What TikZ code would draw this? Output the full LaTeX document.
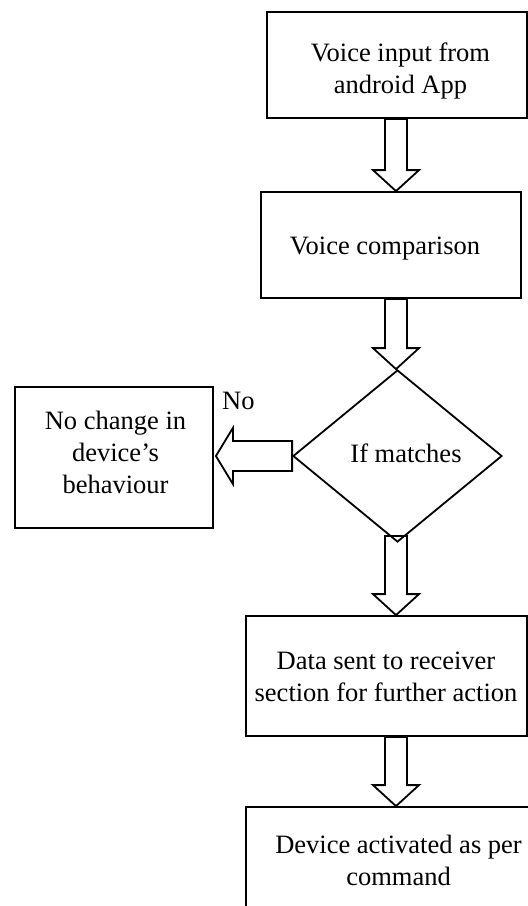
\documentclass[tikz,border=0pt]{standalone}
\usepackage{fontspec}
\setmainfont{Liberation Serif}
\usetikzlibrary{calc,shapes.geometric}
\newcommand\mainsize{\fontsize{26.5}{32}\selectfont}
\tikzset{
  box/.style={draw, line width=1.8pt, rectangle, inner sep=0pt},
  dec/.style={draw, line width=1.8pt, diamond, inner sep=0pt},
  txt/.style={align=center, inner sep=0pt, anchor=base, font=\mainsize},
  blockarrow/.style={draw, line width=1.8pt, line join=miter},
}
\newcommand\vblockarrow[3]{%
  \path[blockarrow] let \p1=#1, \p2=(#2.north), \p3=(axis) in
    (\x3-11pt,\y1) -- (\x3-11pt,\y2+21pt) -- (\x3-23pt,\y2+21pt) -- (\x3,\y2)
    -- (\x3+23pt,\y2+21pt) -- (\x3+11pt,\y2+21pt) -- (\x3+11pt,\y1) -- cycle;}
\begin{document}
\begin{tikzpicture}[x={(1pt,0)}, y={(0,-1pt)}]
\useasboundingbox (0,0) rectangle (528,906);
\clip (0,0) rectangle (528,906);
\coordinate (axis) at (396,0);
% boxes
\node[box, minimum width=260pt, minimum height=106pt] (b1) at (397,65) {};
\node[box, minimum width=260pt, minimum height=106pt] (b2) at (391,245) {};
\node[dec, minimum width=209pt, minimum height=172pt] (d) at (397.5,456) {};
\node[box, minimum width=198pt, minimum height=141pt] (b3) at (114,457.5) {};
\node[box, minimum width=281pt, minimum height=120pt] (b4) at (386.5,676) {};
\node[box, minimum width=310pt, minimum height=152pt] (b5) at (401,883) {};
% texts (base anchor = baseline of the last line)
\node[txt] (t1) at (400.5,93) {Voice input from\\android App};
\node[txt] (t2) at (385,254) {Voice comparison};
\node[txt] (td) at (406,462) {If matches};
\node[txt] (t3) at (115.5,493) {No change in\\device’s\\behaviour};
\node[txt] (t4) at (386,701) {Data sent to receiver\\section for further action};
\node[txt] (t5) at (398.5,885) {Device activated as per\\command};
\node[inner sep=0pt, anchor=base west, font=\mainsize] (no) at (222,409) {No};
% block arrows
\vblockarrow{(b1.south)}{b2}{}
\path let \p1=(d.south) in coordinate (dstart) at (\x1,\y1+7pt);
\vblockarrow{(b2.south)}{d}{}
\vblockarrow{(dstart)}{b4}{}
\vblockarrow{(b4.south)}{b5}{}
\path[blockarrow] let \p1=(d.west), \p2=(b3.east) in
  (\x1,\y1+15pt) -- (\x2+19pt,\y1+15pt) -- (\x2+19pt,\y1+28pt) -- (\x2+2pt,\y1)
  -- (\x2+19pt,\y1-28pt) -- (\x2+19pt,\y1-15pt) -- (\x1,\y1-15pt) -- cycle;
\end{tikzpicture}
\end{document}
